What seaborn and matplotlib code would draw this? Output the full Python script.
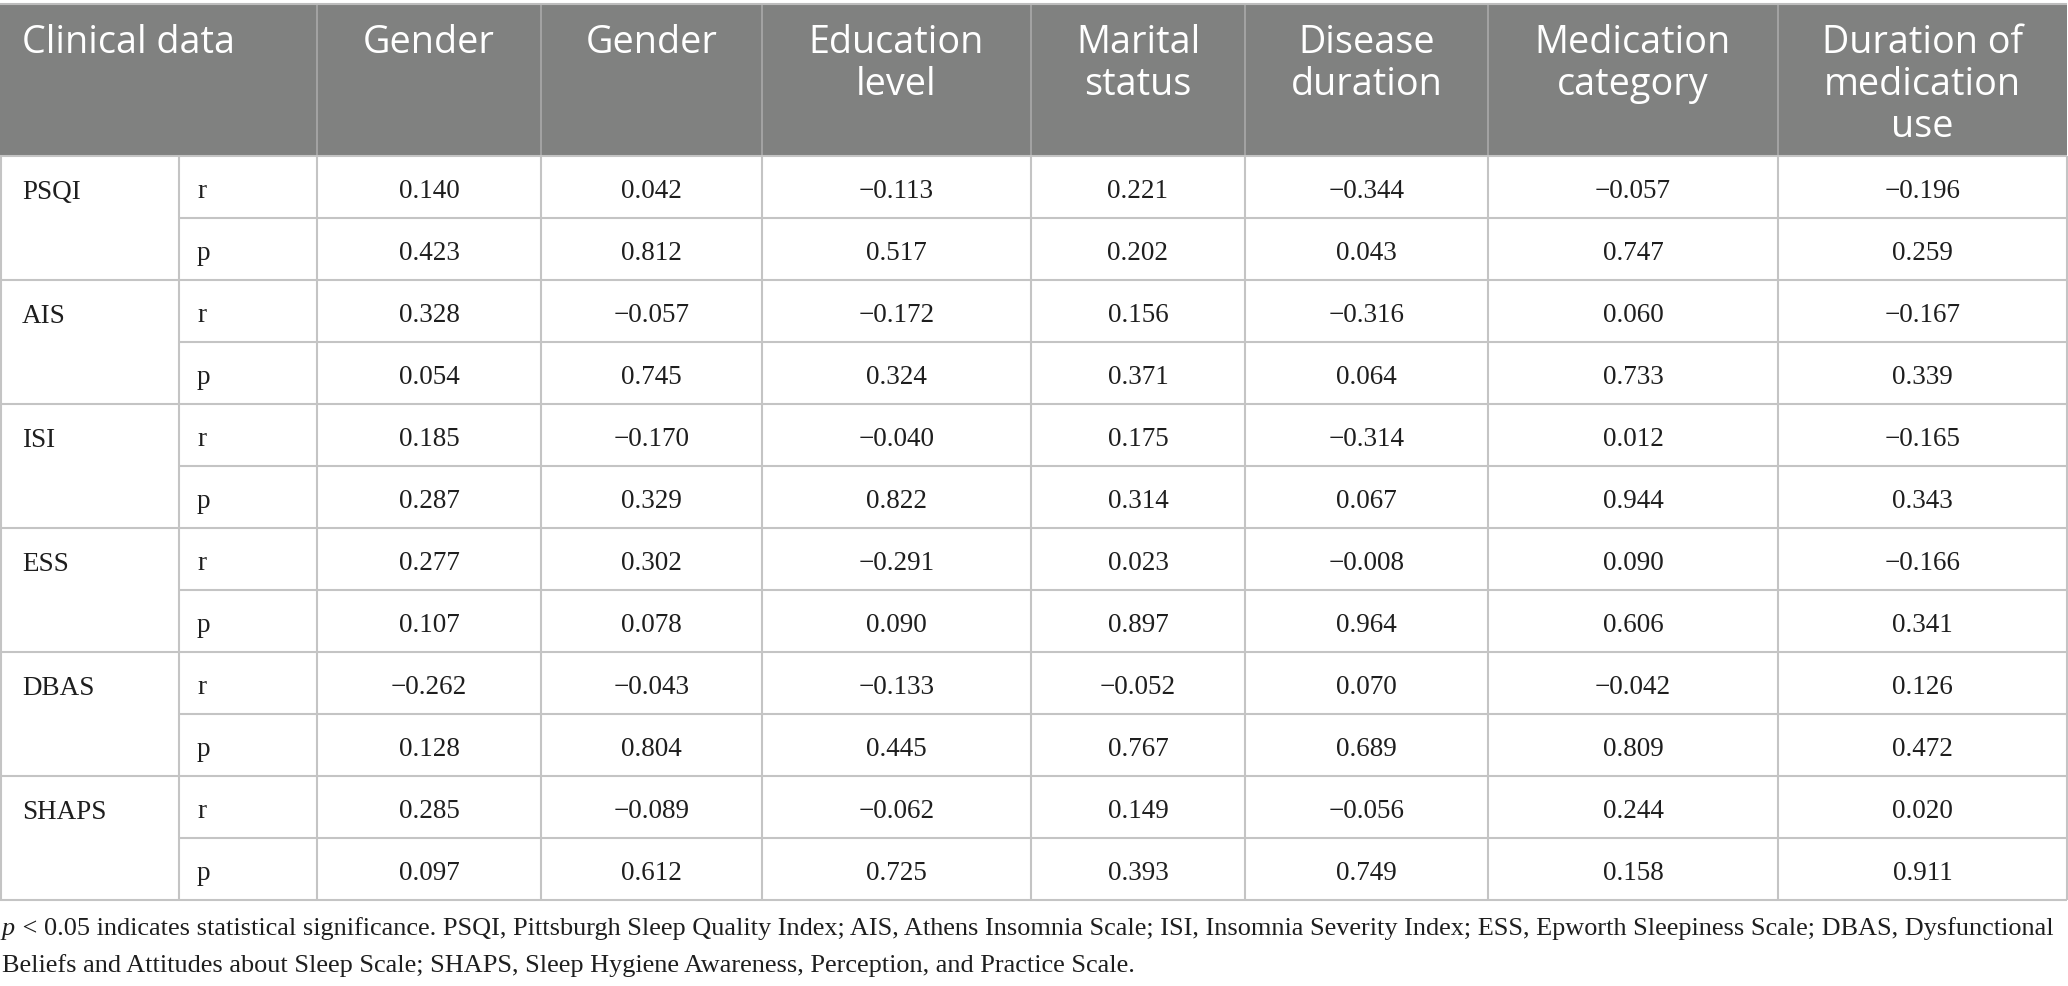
import matplotlib
matplotlib.use("Agg")
import matplotlib.pyplot as plt
import seaborn as sns
from matplotlib.patches import Rectangle

# ---------------- data ----------------
measures = ["PSQI", "AIS", "ISI", "ESS", "DBAS", "SHAPS"]
stat_labels = ["r", "p"]
columns = ["Gender", "Gender", "Education\nlevel", "Marital\nstatus",
           "Disease\nduration", "Medication\ncategory", "Duration of\nmedication\nuse"]
corner_label = "Clinical data"

r_psqi = [0.140, 0.042, -0.113, 0.221, -0.344, -0.057, -0.196]
p_psqi = [0.423, 0.812, 0.517, 0.202, 0.043, 0.747, 0.259]
r_ais = [0.328, -0.057, -0.172, 0.156, -0.316, 0.060, -0.167]
p_ais = [0.054, 0.745, 0.324, 0.371, 0.064, 0.733, 0.339]
r_isi = [0.185, -0.170, -0.040, 0.175, -0.314, 0.012, -0.165]
p_isi = [0.287, 0.329, 0.822, 0.314, 0.067, 0.944, 0.343]
r_ess = [0.277, 0.302, -0.291, 0.023, -0.008, 0.090, -0.166]
p_ess = [0.107, 0.078, 0.090, 0.897, 0.964, 0.606, 0.341]
r_dbas = [-0.262, -0.043, -0.133, -0.052, 0.070, -0.042, 0.126]
p_dbas = [0.128, 0.804, 0.445, 0.767, 0.689, 0.809, 0.472]
r_shaps = [0.285, -0.089, -0.062, 0.149, -0.056, 0.244, 0.020]
p_shaps = [0.097, 0.612, 0.725, 0.393, 0.749, 0.158, 0.911]

r_values = [r_psqi, r_ais, r_isi, r_ess, r_dbas, r_shaps]
p_values = [p_psqi, p_ais, p_isi, p_ess, p_dbas, p_shaps]

footnote_p = "p"
footnote_line1 = (" < 0.05 indicates statistical significance. PSQI, Pittsburgh Sleep Quality Index; "
                  "AIS, Athens Insomnia Scale; ISI, Insomnia Severity Index; ESS, Epworth Sleepiness "
                  "Scale; DBAS, Dysfunctional")
footnote_line2 = ("Beliefs and Attitudes about Sleep Scale; SHAPS, Sleep Hygiene Awareness, "
                  "Perception, and Practice Scale.")

# ---------------- layout ----------------
sns.set_theme(style="white")
W, H = 2068, 986
fig = plt.figure(figsize=(W / 100, H / 100), dpi=100)
ax = fig.add_axes([0, 0, 1, 1])
ax.set_xlim(0, W)
ax.set_ylim(H, 0)
ax.axis("off")

col_edges = [0, 179, 317, 541, 762, 1031, 1245, 1488, 1778, 2067]
head_top, head_bot = 4, 156
row_h = 62
n_rows = len(measures) * 2
table_bot = head_bot + n_rows * row_h

header_gray = "#808180"
grid_col = "#c4c4c4"
head_line = "#a6a6a6"
txt_col = "#1e1e1e"
serif = "Liberation Serif"
sans = "Open Sans"
body_fs = 19.5
head_fs = 27.2

# header background
ax.add_patch(Rectangle((0, head_top), col_edges[-1], head_bot - head_top,
                       facecolor=header_gray, edgecolor="none", zorder=1))
ax.hlines(head_top, 0, col_edges[-1], color="#bdbdbd", lw=1.5, zorder=3)
for x in col_edges[2:-1]:
    ax.vlines(x, head_top, head_bot, color=head_line, lw=1.3, zorder=2)

# header text
ax.text(22, 53, corner_label, ha="left", va="baseline", color="white",
        fontsize=head_fs, family=sans, zorder=4)
line_pitch = 42
for j, name in enumerate(columns):
    cx = (col_edges[j + 2] + col_edges[j + 3]) / 2
    for k, ln in enumerate(name.split("\n")):
        ax.text(cx, 53 + k * line_pitch, ln, ha="center", va="baseline", color="white",
                fontsize=head_fs, family=sans, zorder=4)

# body grid
ax.hlines(head_bot, 0, col_edges[-1], color=grid_col, lw=1.5, zorder=2)
for i in range(n_rows):
    y_bottom = head_bot + (i + 1) * row_h
    x_start = 0 if (i % 2 == 1) else col_edges[1]
    ax.hlines(y_bottom, x_start, col_edges[-1], color=grid_col, lw=1.5, zorder=2)
for x in col_edges:
    ax.vlines(x if x > 0 else 1, head_bot, table_bot, color=grid_col, lw=1.5, zorder=2)

def fmt(v):
    return f"{v:.3f}".replace("-", "\u2212")

for g, meas in enumerate(measures):
    top = head_bot + 2 * g * row_h
    ax.text(22, top + 43, meas, ha="left", va="baseline", fontsize=body_fs,
            family=serif, color=txt_col, zorder=4)
    for s, (lab, vals) in enumerate(zip(stat_labels, [r_values[g], p_values[g]])):
        rt = top + s * row_h
        ax.text(197, rt + 42.5, lab, ha="left", va="baseline", fontsize=body_fs,
                family=serif, color=txt_col, zorder=4)
        for j, v in enumerate(vals):
            cx = (col_edges[j + 2] + col_edges[j + 3]) / 2
            ax.text(cx, rt + 42.5, fmt(v), ha="center", va="baseline", fontsize=body_fs,
                    family=serif, color=txt_col, zorder=4)

# footnote
fig.canvas.draw()
renderer = fig.canvas.get_renderer()
foot_fs = body_fs
t_p = ax.text(2, 935, footnote_p, ha="left", va="baseline", fontsize=foot_fs,
              family=serif, style="italic", color=txt_col)
bb = t_p.get_window_extent(renderer=renderer)
x_after = bb.x1 + 1
t1 = ax.text(x_after, 935, footnote_line1, ha="left", va="baseline", fontsize=foot_fs,
             family=serif, color=txt_col)
bb1 = t1.get_window_extent(renderer=renderer)
target_right = 2058
if bb1.x1 > target_right + 1 or bb1.x1 < target_right - 40:
    scale = (target_right - 2) / (bb1.x1 - 2)
    foot_fs = foot_fs * scale
    t_p.set_fontsize(foot_fs)
    t1.set_fontsize(foot_fs)
    bb = t_p.get_window_extent(renderer=renderer)
    t1.set_x(bb.x1 + 1)
ax.text(2, 972, footnote_line2, ha="left", va="baseline", fontsize=foot_fs,
        family=serif, color=txt_col)

fig.savefig("out.png", dpi=100, facecolor="white")
